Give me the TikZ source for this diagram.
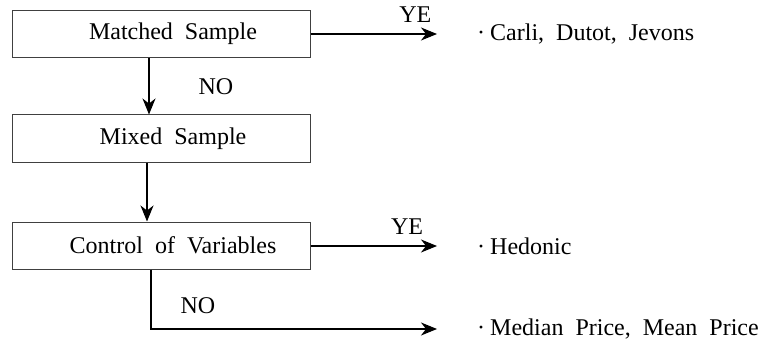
\documentclass[tikz,border=0pt]{standalone}
\usepackage{fontspec}
\setmainfont{Liberation Serif}[WordSpace=2.0]
\usetikzlibrary{arrows.meta}

\begin{document}
\begin{tikzpicture}[x=1pt, y=-1pt,
   font=\fontsize{24}{28}\selectfont,
   box/.style={draw=black!75, line width=1pt, minimum width=298pt, minimum height=47pt, inner sep=0pt, execute at begin node=\hspace*{24pt}},
   result/.style={anchor=west, inner sep=0pt},
   flow/.style={-{Stealth[length=16pt, width=13pt, inset=5pt]}, line width=1.2pt, shorten >=40pt},
   down/.style={-{Stealth[length=16pt, width=13pt, inset=5pt]}, line width=1.2pt},
   tag/.style={inner sep=0pt}]
\useasboundingbox (0,0) rectangle (768,342);
\node[box] (matched) at (161,34) {Matched Sample};
\node[box] (mixed) at (161,138.5) {Mixed Sample};
\node[box] (control) at (161,245.5) {Control of Variables};
\node[result] (carli) at (477,34) {·\hspace{5pt}Carli, Dutot, Jevons};
\node[result] (hedonic) at (477,246) {·\hspace{5pt}Hedonic};
\node[result] (median) at (477,329) {·\hspace{5pt}Median Price, Mean Price};
\draw[flow] (matched.east) -- node[tag, pos=0.63, above=11pt] {YE} (carli.west);
\draw[flow] (control.east |- hedonic) -- node[tag, pos=0.58, above=11pt] {YE} (hedonic.west);
\draw[down] ([xshift=-12pt]matched.south) -- node[tag, midway, right=49pt] {NO} ([xshift=-12pt]mixed.north);
\draw[down] ([xshift=-14pt]mixed.south) -- ([xshift=-14pt]control.north);
\draw[flow] ([xshift=-10pt]control.south) |- node[tag, pos=0.3, right=29pt] {NO} (median.west);
\end{tikzpicture}
\end{document}
